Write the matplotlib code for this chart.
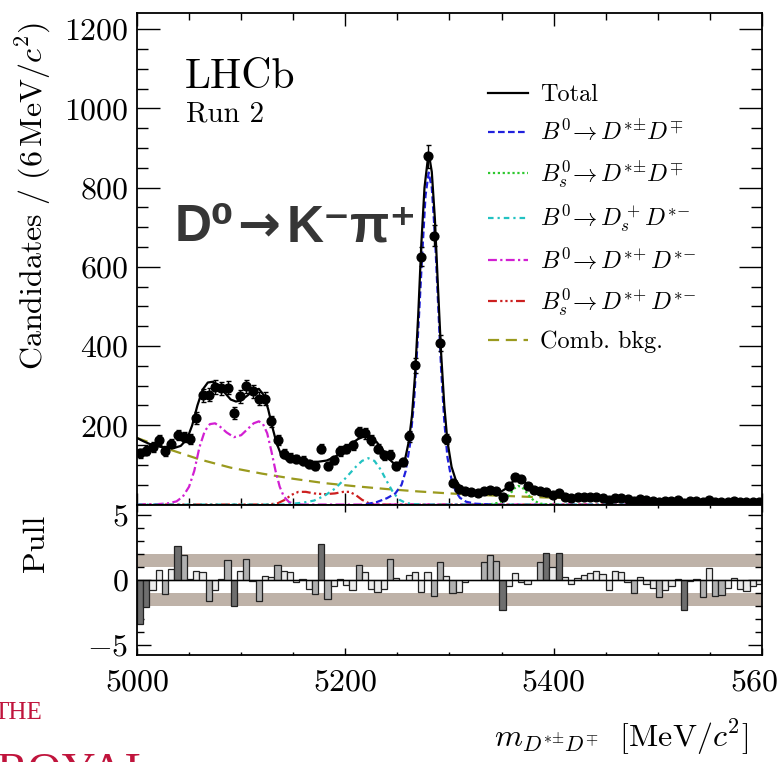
import numpy as np
import matplotlib
matplotlib.use('Agg')
import matplotlib.pyplot as plt
from matplotlib.ticker import MultipleLocator, FuncFormatter

# binning: 100 bins of 6 MeV
m_lo, m_hi, n_bins = 5000, 5600, 100

counts = [130, 136, 145, 162, 135, 154, 176, 170, 166, 219,
          276, 277, 297, 293, 295, 231, 273, 298, 286, 267,
          267, 210, 162, 128, 118, 115, 111, 103, 96, 141,
          96, 113, 135, 141, 149, 183, 180, 162, 141, 124,
          126, 98, 107, 172, 351, 626, 879, 679, 408, 166,
          55, 40, 34, 31, 29, 35, 37, 34, 19, 47,
          69, 65, 48, 36, 34, 32, 24, 28, 20, 17,
          18, 19, 19, 19, 17, 12, 17, 16, 13, 9,
          13, 11, 10, 7, 9, 10, 11, 3, 10, 10,
          6, 12, 6, 6, 7, 9, 7, 6, 7, 7]

errors = [11.4, 11.7, 12.0, 12.7, 11.6, 12.4, 13.3, 13.0, 12.9, 14.8,
          16.6, 16.6, 17.2, 17.1, 17.2, 15.2, 16.5, 17.3, 16.9, 16.3,
          16.3, 14.5, 12.7, 11.3, 10.9, 10.7, 10.5, 10.1, 9.8, 11.9,
          9.8, 10.6, 11.6, 11.9, 12.2, 13.5, 13.4, 12.7, 11.9, 11.1,
          11.2, 9.9, 10.3, 13.1, 18.7, 25.0, 29.6, 26.1, 20.2, 12.9,
          7.4, 6.3, 5.8, 5.6, 5.4, 5.9, 6.1, 5.8, 4.4, 6.9,
          8.3, 8.1, 6.9, 6.0, 5.8, 5.7, 4.9, 5.3, 4.5, 4.1,
          4.2, 4.4, 4.4, 4.4, 4.1, 3.5, 4.1, 4.0, 3.6, 3.0,
          3.6, 3.3, 3.2, 2.6, 3.0, 3.2, 3.3, 1.7, 3.2, 3.2,
          2.4, 3.5, 2.4, 2.4, 2.6, 3.0, 2.6, 2.4, 2.6, 2.6]

pulls = [-3.4, -2.1, -0.8, 0.8, -1.07, 0.84, 2.6, 1.9, 0.05, 0.7,
         0.6, -1.6, -0.76, 0.08, 1.5, -2.0, 0.7, 1.65, -0.05, -1.6,
         0.28, 0.25, 1.15, 0.7, 0.6, -0.18, 0.08, -0.7, -1.07, 2.8,
         -1.45, -0.43, 0.08, -0.36, -0.8, 1.15, 0.6, -0.7, -0.94, -0.7,
         1.6, 0.15, -0.02, 0.4, 0.6, -0.94, 0.6, -1.25, 1.35, 0.33,
         -1.02, -0.95, -0.15, 0.02, -0.02, 1.35, 1.9, 1.47, -2.3, -0.43,
         0.53, -0.18, -0.3, 0.03, 1.35, 2.06, 0.97, 2.1, 0.25, -0.3,
         0.15, 0.4, 0.5, 0.66, 0.46, -0.76, 0.7, 0.58, -0.18, -1.02,
         0.25, -0.3, -0.61, -1.32, -0.8, -0.43, 0.05, -2.3, -0.05, 0.08,
         -1.32, 0.92, -1.2, -1.15, -0.61, 0.15, -0.69, -0.87, -0.43, -0.3]

# fit components (mass in MeV, candidates per bin)
total_m = [5000, 5006, 5012, 5018, 5024, 5030, 5036, 5042, 5048, 5053, 5058, 5063,
           5068, 5073, 5078, 5084, 5090, 5095, 5100, 5106, 5112, 5117, 5122, 5126,
           5130, 5134, 5138, 5143, 5150, 5158, 5166, 5174, 5182, 5190, 5198, 5205,
           5212, 5218, 5224, 5230, 5236, 5242, 5248, 5253, 5257, 5261, 5264, 5267,
           5270, 5273, 5276, 5279, 5281, 5283, 5286, 5289, 5292, 5295, 5298, 5302,
           5306, 5310, 5316, 5322, 5330, 5340, 5348, 5354, 5360, 5366, 5372, 5378,
           5384, 5390, 5400, 5420, 5450, 5480, 5510, 5540, 5570, 5600]
total_y = [168, 160, 153, 148, 145, 143, 143, 148, 165, 200, 250, 290,
           308, 310, 300, 283, 265, 260, 263, 275, 288, 292, 275, 240,
           195, 155, 128, 114, 108, 108, 108, 108, 111, 120, 136, 152,
           165, 172, 170, 158, 138, 115, 100, 98, 110, 160, 225, 330,
           480, 660, 800, 868, 872, 840, 720, 545, 380, 250, 160, 95,
           62, 46, 36, 31, 28, 27, 30, 40, 56, 67, 58, 40,
           28, 22, 19, 17, 14, 12.5, 11, 10, 9, 8]

b0_m = [5220, 5230, 5240, 5248, 5254, 5258, 5262, 5266, 5270, 5274, 5277, 5280,
        5283, 5286, 5289, 5292, 5295, 5298, 5302, 5306, 5310, 5316, 5325, 5340]
b0_y = [1, 6, 16, 28, 50, 85, 150, 260, 440, 640, 780, 838,
        800, 680, 510, 340, 210, 120, 62, 33, 17, 7, 2, 0]

bs_m = [5330, 5340, 5348, 5354, 5358, 5362, 5366, 5370, 5374, 5378, 5382, 5388, 5395, 5405]
bs_y = [0, 1, 5, 14, 26, 40, 47, 43, 30, 17, 8, 2, 0, 0]

dsd_m = [5000, 5140, 5150, 5160, 5170, 5180, 5190, 5200, 5210, 5216, 5222, 5228,
         5234, 5240, 5246, 5252, 5258, 5265, 5275, 5600]
dsd_y = [0, 0, 2, 5, 10, 22, 40, 66, 95, 110, 117, 110,
         88, 58, 30, 12, 4, 1, 0, 0]

b0dd_m = [5000, 5020, 5030, 5038, 5044, 5050, 5055, 5060, 5065, 5070, 5075, 5080,
          5086, 5093, 5100, 5106, 5112, 5117, 5121, 5125, 5129, 5133, 5137, 5141,
          5146, 5152, 5160, 5600]
b0dd_y = [0, 1, 3, 8, 20, 45, 85, 145, 185, 203, 205, 196,
          182, 170, 175, 190, 205, 210, 203, 180, 135, 85, 45, 20,
          6, 1, 0, 0]

bsdd_m = [5000, 5125, 5135, 5142, 5148, 5155, 5162, 5170, 5180, 5190, 5198, 5204,
          5210, 5216, 5222, 5230, 5600]
bsdd_y = [0, 0, 3, 12, 24, 32, 32, 28, 26, 28, 32, 32,
          24, 12, 4, 0, 0]

bkg_m = [5000, 5030, 5060, 5090, 5120, 5150, 5180, 5210, 5240, 5270, 5300, 5330,
         5360, 5390, 5420, 5450, 5480, 5510, 5540, 5570, 5600]
bkg_y = [168, 140, 114, 93, 78, 65, 54, 46, 39, 33, 28, 24,
         21, 18, 16, 14, 12.5, 11, 10, 9, 8]

plt.rcParams['font.family'] = 'serif'
plt.rcParams['font.serif'] = ['cmr10']
plt.rcParams['mathtext.fontset'] = 'cm'
plt.rcParams['axes.formatter.use_mathtext'] = True

edges = np.linspace(m_lo, m_hi, n_bins + 1)
centres = 0.5 * (edges[1:] + edges[:-1])
width = edges[1] - edges[0]

fig = plt.figure(figsize=(7.77, 7.62), dpi=100)
ax = fig.add_axes([0.1763, 0.3379, 0.8044, 0.6446])
axp = fig.add_axes([0.1763, 0.1398, 0.8044, 0.1981], sharex=ax)

l_bkg, = ax.plot(bkg_m, bkg_y, color='#9a9a1e', lw=1.6, dashes=(5, 3), label='Comb. bkg.')
l_bsdd, = ax.plot(bsdd_m, bsdd_y, color='#cc1f1f', lw=1.6,
                  dashes=(4, 1.5, 1, 1.3, 1, 1.3, 1, 1.5),
                  label=r'$B^0_s\!\to D^{*\!+}D^{*\!-}$')
l_b0dd, = ax.plot(b0dd_m, b0dd_y, color='#d21fd2', lw=1.6,
                  dashes=(4, 1.5, 1, 1.5), label=r'$B^0\!\to D^{*\!+}D^{*\!-}$')
l_dsd, = ax.plot(dsd_m, dsd_y, color='#22c2c2', lw=1.6,
                 dashes=(2.5, 1.8, 1, 1.8), label=r'$B^0\!\to D^+_sD^{*\!-}$')
l_bs, = ax.plot(bs_m, bs_y, color='#2ec82e', lw=1.6, dashes=(1, 1.2),
                label=r'$B^0_s\!\to D^{*\!\pm}\!D^{\mp}$')
l_b0, = ax.plot(b0_m, b0_y, color='#2020dd', lw=1.6, dashes=(3, 1.5),
                label=r'$B^0\!\to D^{*\!\pm}\!D^{\mp}$')
l_tot, = ax.plot(total_m, total_y, color='black', lw=1.6, label='Total')

ax.errorbar(centres, counts, yerr=errors, fmt='o', color='black', ms=6.3,
            elinewidth=1.0, capsize=1.8, capthick=1.0, zorder=5)

ax.set_xlim(m_lo, m_hi)
ax.set_ylim(0, 1240)

leg = ax.legend(handles=[l_tot, l_b0, l_bs, l_dsd, l_b0dd, l_bsdd, l_bkg],
                loc='upper left', bbox_to_anchor=(0.546, 0.876), frameon=False,
                fontsize=17.5, handlelength=1.65, handletextpad=0.5, labelspacing=0.53,
                borderaxespad=0.0)

ax.text(0.077, 0.847, 'LHCb', transform=ax.transAxes, fontsize=30)
ax.text(0.078, 0.78, 'Run 2', transform=ax.transAxes, fontsize=21)

# decay label, built from three pieces so the arrow can use a bolder glyph
sans = ['Liberation Sans', 'DejaVu Sans']
t1 = ax.text(0.061, 0.536, 'D⁰', transform=ax.transAxes, fontsize=37,
             fontweight='bold', family=sans, color='#363636', va='baseline')
ax.annotate('→', xy=(1, 0), xycoords=t1, xytext=(1.5, 0), textcoords='offset points',
            ha='left', va='bottom', fontsize=37, fontweight='bold',
            family='DejaVu Sans', color='#363636')
ax.annotate('K⁻π⁺', xy=(1, 0), xycoords=t1, xytext=(37.5, 0), textcoords='offset points',
            ha='left', va='bottom', fontsize=37, fontweight='bold',
            family=sans, color='#363636')

# pull panel
pull_arr = np.array(pulls)
bar_cols = np.where(np.abs(pull_arr) >= 2, '#6e6e6e',
                    np.where(np.abs(pull_arr) >= 1, '#b0b0b0', '#ececec'))
axp.axhspan(1, 2, color='#beb2a8', lw=0, zorder=1)
axp.axhspan(-2, -1, color='#beb2a8', lw=0, zorder=1)
axp.bar(centres, pulls, width=width, color=bar_cols, edgecolor='#222222',
        linewidth=0.9, zorder=2)
axp.axhline(0, color='black', lw=1.0, zorder=3)
axp.set_ylim(-5.8, 5.8)

fmt = FuncFormatter(lambda v, p: '' if v == 0 else '$%d$' % v)
ax.yaxis.set_major_formatter(fmt)
axp.yaxis.set_major_formatter(FuncFormatter(lambda v, p: '$%d$' % v))
axp.xaxis.set_major_formatter(FuncFormatter(lambda v, p: '$%d$' % v))

ax.xaxis.set_major_locator(MultipleLocator(200))
ax.xaxis.set_minor_locator(MultipleLocator(50))
ax.yaxis.set_major_locator(MultipleLocator(200))
ax.yaxis.set_minor_locator(MultipleLocator(50))
axp.yaxis.set_major_locator(MultipleLocator(5))
axp.yaxis.set_minor_locator(MultipleLocator(1))

for a in (ax, axp):
    a.tick_params(which='both', direction='in', top=True, right=True, width=1.0,
                  labelsize=23, color='black')
    for s in a.spines.values():
        s.set_linewidth(1.3)
ax.tick_params(labelbottom=False)
ax.tick_params(axis='y', which='major', length=16.5, pad=6)
ax.tick_params(axis='y', which='minor', length=8)
ax.tick_params(axis='x', which='major', length=9)
ax.tick_params(axis='x', which='minor', length=5)
axp.tick_params(axis='y', which='major', length=10, pad=6)
axp.tick_params(axis='y', which='minor', length=5)
axp.tick_params(axis='x', which='major', length=5, pad=10)
axp.tick_params(axis='x', which='minor', length=2.5)

ax.set_ylabel(r'$\mathrm{Candidates}\ /\ (6\,\mathrm{MeV}/c^{2})$', fontsize=23, loc='top')
ax.yaxis.set_label_coords(-0.135, 0.982)
axp.set_ylabel('Pull', fontsize=23, loc='top')
axp.yaxis.set_label_coords(-0.139, 0.93)
axp.set_xlabel(r'$m_{D^{*\!\pm}\!D^{\mp}}\ \ [\mathrm{MeV}/c^{2}]$', fontsize=23, loc='right')
axp.xaxis.set_label_coords(0.978, -0.41)

# cropped publisher mark at the bottom-left corner
fig.text(-0.008, 0.0564, 'THE', color='#c0143c', fontsize=18, family='Liberation Serif')
fig.text(-0.004, -0.03, 'ROYAL', color='#c0143c', fontsize=34, family='Liberation Serif')

fig.savefig('out.png', dpi=100)
